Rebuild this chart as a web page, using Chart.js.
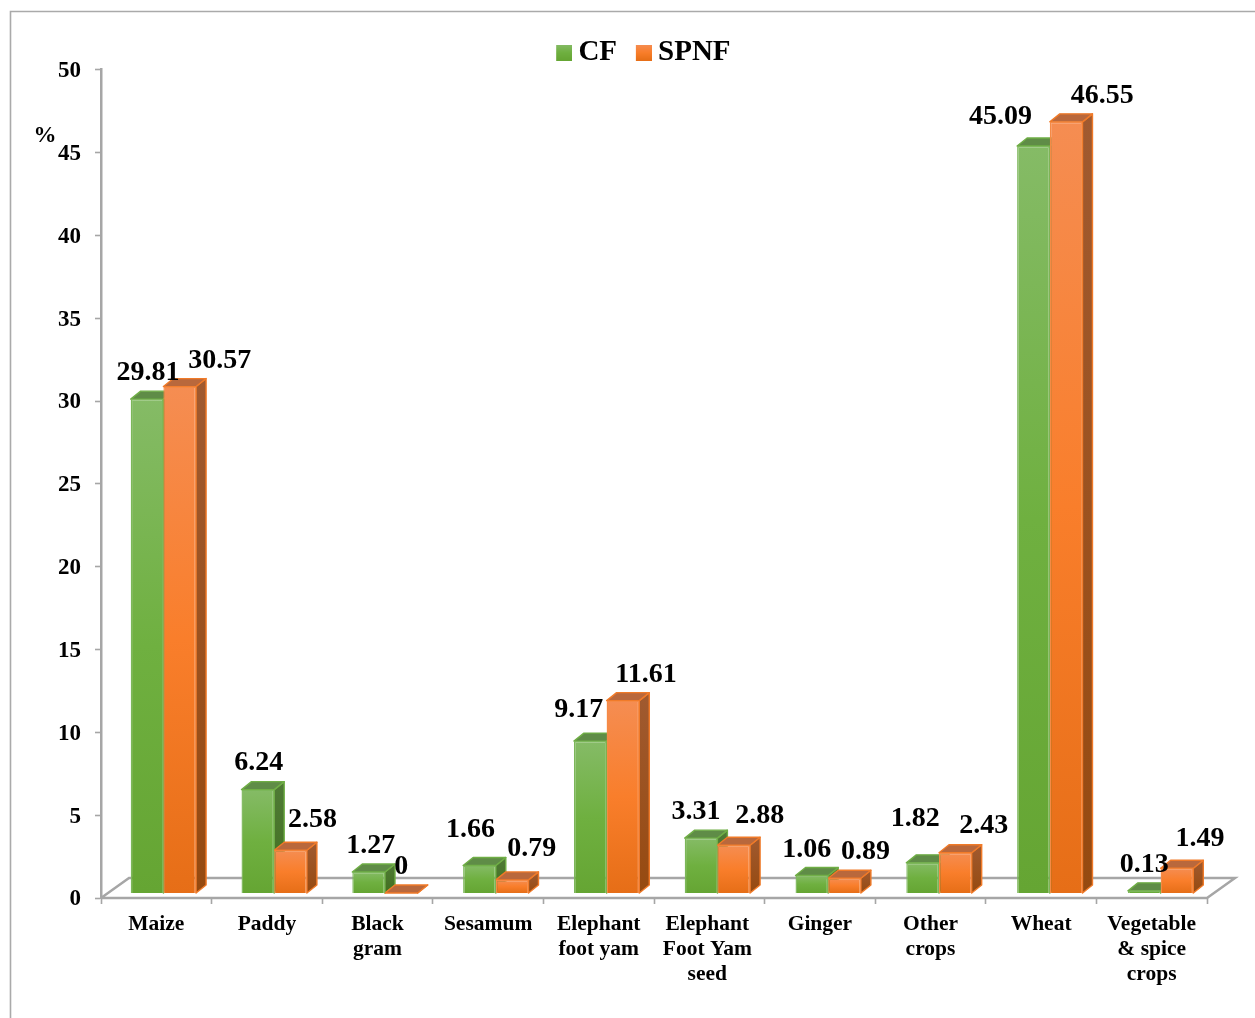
<!DOCTYPE html>
<html>
<head>
<meta charset="utf-8">
<style>html,body{margin:0;padding:0;background:#fff}canvas{display:block}</style>
<script src="https://cdn.jsdelivr.net/npm/chart.js@4"></script>
</head>
<body>
<canvas id="chart" width="1255" height="1018"></canvas>
<script>
const categories = ['Maize','Paddy',['Black','gram'],'Sesamum',['Elephant','foot yam'],['Elephant','Foot Yam','seed'],'Ginger',['Other','crops'],'Wheat',['Vegetable','& spice','crops']];
const cfValues = [29.81,6.24,1.27,1.66,9.17,3.31,1.06,1.82,45.09,0.13];
const spnfValues = [30.57,2.58,0,0.79,11.61,2.88,0.89,2.43,46.55,1.49];
const seriesNames = ['CF','SPNF'];

const SERIF = '"Liberation Serif","Times New Roman",serif';
const GREY = '#a6a6a6';

// Colour ramps for the two series: front, top and side faces of each block.
const palette = [
  {front:['#85bb66','#6fb040','#65a533'], edge:'#7cb75a', top:'#5f8c47', side:['#4f7a36','#42701f'], topEdge:'#6fae45'},
  {front:['#f58d52','#f97e2b','#e66e17'], edge:'#f58a45', top:'#b9683c', side:['#a05a30','#964a10'], topEdge:'#f07a28'}
];

function ramp(ctx, stops, y0, y1) {
  const g = ctx.createLinearGradient(0, y0, 0, y1);
  g.addColorStop(0, stops[0]);
  if (stops.length === 3) g.addColorStop(0.5, stops[1]);
  g.addColorStop(1, stops[stops.length - 1]);
  return g;
}

function frontFill(seriesIndex) {
  return (c) => {
    const stops = palette[seriesIndex].front;
    if (c.type !== 'data' || !c.parsed) return stops[1];
    const sc = c.chart.scales.yBars;
    const top = sc.getPixelForValue(c.parsed.y);
    const base = sc.getPixelForValue(0);
    return ramp(c.chart.ctx, stops, top, Math.max(base, top + 1));
  };
}

// Legend swatch; the transparent left strip nudges the square toward its label.
function swatch(seriesIndex) {
  const cv = document.createElement('canvas');
  cv.width = 24; cv.height = 16;
  const g = cv.getContext('2d');
  g.fillStyle = ramp(g, palette[seriesIndex].front, 0, 16);
  g.fillRect(8, 0, 16, 16);
  return cv;
}

// Moves the hidden bar axes onto the front plane of the 3-D floor and seats the legend.
const planeOffset = {
  id: 'planeOffset',
  afterLayout(chart, args, o) {
    const xb = chart.scales.xBars, yb = chart.scales.yBars;
    xb.left += o.dx; xb.right += o.dx + o.stretch; xb.configure();
    yb.top += o.dy; yb.bottom += o.dy; yb.configure();
    chart.legend.left += o.legendDx; chart.legend.right += o.legendDx;
    chart.legend.top = o.legendTop;
  },
  // Fine placement of axis text: value ticks sit a little lower, the three-line label a little left.
  beforeDraw(chart, args, o) {
    const area = chart.chartArea;
    chart.scales.y.getLabelItems(area).forEach((item) => { item.options.translation[1] += o.tickDrop; });
    chart.scales.x.getLabelItems(area).forEach((item) => {
      if (Array.isArray(item.label) && item.label.length === 3 && item.label[0] === 'Elephant') {
        item.options.translation[0] += o.seedLabelDx;
      }
    });
  }
};

// Frame, floor and the visible depth of each bar, painted beneath the library's front faces.
const depthFaces = {
  id: 'depthFaces',
  beforeDatasetsDraw(chart, args, o) {
    const {ctx, chartArea: a} = chart;
    ctx.save();
    ctx.strokeStyle = '#aaaaaa';
    ctx.lineWidth = 1.6;
    ctx.beginPath();
    ctx.moveTo(10.5, chart.height); ctx.lineTo(10.5, 11.5); ctx.lineTo(chart.width, 11.5);
    ctx.stroke();

    ctx.strokeStyle = GREY;
    ctx.lineWidth = 2.5;
    ctx.beginPath();
    ctx.moveTo(a.left, a.bottom);
    ctx.lineTo(a.left + o.floorX, a.bottom - o.floorY);
    ctx.lineTo(a.right + o.floorX, a.bottom - o.floorY);
    ctx.lineTo(a.right, a.bottom);
    ctx.lineTo(a.left, a.bottom);
    ctx.stroke();

    const count = categories.length;
    for (let i = 0; i < count; i++) {
      [0, 1].forEach((s) => {
        const bar = chart.getDatasetMeta(s).data[i];
        const p = palette[s];
        const l = bar.x - bar.width / 2, r = bar.x + bar.width / 2;
        const t = bar.y, b = bar.base;
        ctx.lineWidth = 1.4;
        ctx.lineJoin = 'round';
        ctx.strokeStyle = p.topEdge;
        ctx.fillStyle = ramp(ctx, p.side, t - o.barY, Math.max(b, t + 1));
        ctx.beginPath();
        ctx.moveTo(r, t); ctx.lineTo(r + o.barX, t - o.barY);
        ctx.lineTo(r + o.barX, b - o.barY); ctx.lineTo(r, b);
        ctx.closePath(); ctx.fill(); ctx.stroke();
        ctx.fillStyle = p.top;
        ctx.beginPath();
        ctx.moveTo(l, t); ctx.lineTo(l + o.barX, t - o.barY);
        ctx.lineTo(r + o.barX, t - o.barY); ctx.lineTo(r, t);
        ctx.closePath(); ctx.fill(); ctx.stroke();
      });
    }
    ctx.restore();
  }
};

// Value labels beside each bar, plus the % unit next to the value axis.
const valueLabels = {
  id: 'valueLabels',
  afterDatasetsDraw(chart, args, o) {
    const {ctx} = chart;
    ctx.save();
    ctx.fillStyle = '#000';
    ctx.textAlign = 'center';
    ctx.textBaseline = 'middle';
    ctx.font = 'bold 28px ' + SERIF;
    chart.data.datasets.forEach((ds, s) => {
      chart.getDatasetMeta(s).data.forEach((bar, i) => {
        const [dx, dy] = o.shift[s][i];
        ctx.fillText(String(ds.data[i]), bar.x + dx, bar.y + dy + o.lift);
      });
    });
    ctx.font = 'bold 23px ' + SERIF;
    ctx.fillText('%', 45, 136);
    ctx.restore();
  }
};

new Chart(document.getElementById('chart'), {
  type: 'bar',
  data: {
    labels: categories,
    datasets: seriesNames.map((name, s) => ({
      label: name,
      data: s === 0 ? cfValues : spnfValues,
      xAxisID: 'xBars',
      yAxisID: 'yBars',
      backgroundColor: frontFill(s),
      borderColor: palette[s].edge,
      borderWidth: 1.4,
      categoryPercentage: 0.59,
      barPercentage: 1
    }))
  },
  options: {
    responsive: false,
    animation: false,
    layout: {padding: {top: 11.7, right: 48, bottom: 0, left: 0}},
    scales: {
      x: {
        type: 'category',
        position: 'bottom',
        offset: true,
        afterFit: (s) => { s.height = 120; },
        border: {display: false},
        grid: {drawOnChartArea: false, drawTicks: true, tickLength: 6, tickColor: GREY, tickWidth: 1.6, offset: true},
        ticks: {color: '#000', autoSkip: false, maxRotation: 0, padding: 8, font: {family: SERIF, weight: 'bold', size: 21.5, lineHeight: 1.163}}
      },
      y: {
        type: 'linear',
        position: 'left',
        min: 0,
        max: 50,
        afterFit: (s) => { s.width = 101; },
        border: {color: GREY, width: 2.5},
        grid: {drawOnChartArea: false, drawTicks: true, tickLength: 6, tickColor: GREY, tickWidth: 1.6},
        ticks: {color: '#000', stepSize: 5, padding: 14, font: {family: SERIF, weight: 'bold', size: 23}}
      },
      xBars: {type: 'category', display: false, offset: true},
      yBars: {type: 'linear', display: false, min: 0, max: 50}
    },
    plugins: {
      tooltip: {enabled: false},
      legend: {
        position: 'top',
        labels: {
          usePointStyle: true,
          pointStyleWidth: 7.5,
          padding: 19,
          font: {family: SERIF, weight: 'bold', size: 29},
          color: '#000',
          generateLabels: () => seriesNames.map((name, s) => ({
            text: name, datasetIndex: s, pointStyle: swatch(s), fontColor: '#000', hidden: false
          }))
        }
      },
      planeOffset: {dx: 7, dy: -5, stretch: 2, legendDx: 40, legendTop: 19, tickDrop: 1.5, seedLabelDx: -2},
      depthFaces: {floorX: 28, floorY: 20, barX: 10, barY: 8},
      valueLabels: {
        lift: 1,
        shift: [
          [[1,-27],[1,-27.5],[2,-27],[-9,-36.5],[-11.5,-32],[-5,-27],[-5,-27],[-7.5,-45],[-33,-30],[0,-27]],
          [[40,-27],[22,-31],[0,-27],[19.5,-32],[23,-27],[26,-31],[21,-27],[28.5,-28],[36,-27],[23,-31]]
        ]
      }
    }
  },
  plugins: [planeOffset, depthFaces, valueLabels]
});
</script>
</body>
</html>
